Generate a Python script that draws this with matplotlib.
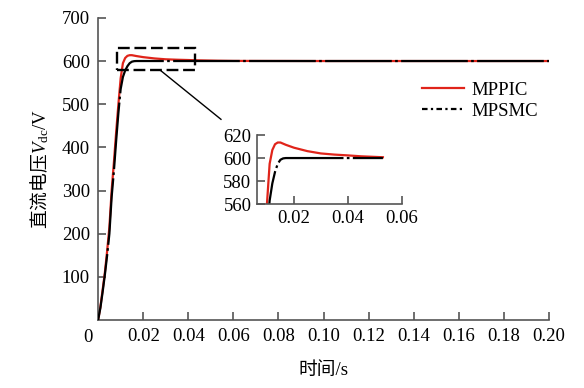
import numpy as np
import matplotlib
matplotlib.use('Agg')
import matplotlib.pyplot as plt
from matplotlib.lines import Line2D
from matplotlib.patches import Rectangle

plt.rcParams['font.family'] = ['Liberation Serif', 'Noto Sans CJK SC']
# mathtext: rm -> CJK glyphs, sf -> upright serif, it -> italic serif
plt.rcParams['mathtext.fontset'] = 'custom'
plt.rcParams['mathtext.rm'] = 'Noto Sans CJK SC'
plt.rcParams['mathtext.sf'] = 'Liberation Serif'
plt.rcParams['mathtext.it'] = 'Liberation Serif:italic'
plt.rcParams['font.size'] = 13.5

# time [s] and dc voltage [V]
t = [0, 0.001, 0.002, 0.003, 0.004, 0.005, 0.006, 0.007, 0.008, 0.009, 0.010,
     0.011, 0.012, 0.013, 0.014, 0.015, 0.016, 0.017, 0.020, 0.025, 0.030,
     0.035, 0.040, 0.045, 0.050, 0.053, 0.060, 0.100, 0.150, 0.200]
v_mppic = [0, 30, 70, 110, 160, 215, 300, 365, 435, 500, 560,
           595, 607, 612, 613.5, 613.5, 612.5, 611.5, 609, 606, 604,
           603, 602.3, 601.5, 601, 600.7, 600.3, 600, 600, 600]
v_mpsmc = [0, 28, 65, 105, 150, 200, 285, 345, 415, 480, 535,
           563, 578, 588, 595, 598.5, 599.7, 600, 600, 600, 600,
           600, 600, 600, 600, 600, 600, 600, 600, 600]
labels = ['MPPIC', 'MPSMC']

red = '#e0241a'
axcol = '#555555'
t = np.array(t)
v_mppic = np.array(v_mppic)
v_mpsmc = np.array(v_mpsmc)

fig = plt.figure(figsize=(5.84, 3.88), dpi=100)
ax = fig.add_axes([0.168, 0.175, 0.772, 0.779])

ax.plot(t, v_mppic, color=red, lw=1.6, zorder=2)
ax.plot(t, v_mpsmc, color='k', lw=1.6, dashes=(30, 1.5, 1.2, 1.5), zorder=3)

ax.set_xlim(0, 0.2)
ax.set_ylim(0, 700)
ax.set_xticks(np.arange(0.02, 0.201, 0.02))
ax.set_xticklabels(['%.2f' % x for x in np.arange(0.02, 0.201, 0.02)])
ax.set_yticks(np.arange(100, 701, 100))
for s in ['top', 'right']:
    ax.spines[s].set_visible(False)
for s in ['left', 'bottom']:
    ax.spines[s].set_color(axcol)
    ax.spines[s].set_linewidth(1.2)
ax.tick_params(direction='in', length=6, width=1.2, color=axcol, pad=6)
ax.text(-0.012, -0.028, '0', transform=ax.transAxes, ha='right', va='top')

ax.set_xlabel('时间/s', labelpad=12)
ax.set_ylabel('$\\mathrm{直流电压}\\mathit{V}_{\\mathsf{dc}}\\mathsf{/V}$', labelpad=8)

# zoom box and connector
ax.add_patch(Rectangle((0.0084, 579), 0.0346, 51, fill=False, ec='k', lw=1.7,
                       ls=(0, (5, 2)), zorder=4))
ax.plot([0.0275, 0.0545], [579, 465], color='k', lw=1.0)

handles = [Line2D([], [], color=red, lw=1.6),
           Line2D([], [], color='k', lw=1.6, dashes=(2.5, 1.5, 1, 1.5))]
ax.legend(handles, labels, loc='upper left', bbox_to_anchor=(0.682, 0.845),
          frameon=False, handlelength=2.2, handletextpad=0.4, labelspacing=0.2,
          fontsize=13.5)

# inset
ins = fig.add_axes([0.440, 0.474, 0.248, 0.178])
m = t <= 0.0535
ins.plot(t[m], v_mppic[m], color=red, lw=1.6)
ins.plot(t[m], v_mpsmc[m], color='k', lw=1.6, dashes=(30, 1.5, 1.2, 1.5))
ins.set_xlim(0.0063, 0.06)
ins.set_ylim(560, 620)
ins.set_xticks([0.02, 0.04, 0.06])
ins.set_xticklabels(['0.02', '0.04', '0.06'])
ins.set_yticks([560, 580, 600, 620])
for s in ['top', 'right']:
    ins.spines[s].set_visible(False)
for s in ['left', 'bottom']:
    ins.spines[s].set_color(axcol)
    ins.spines[s].set_linewidth(1.2)
ins.tick_params(direction='in', length=6, width=1.2, color=axcol, pad=4)

fig.savefig('out.png', dpi=100)
